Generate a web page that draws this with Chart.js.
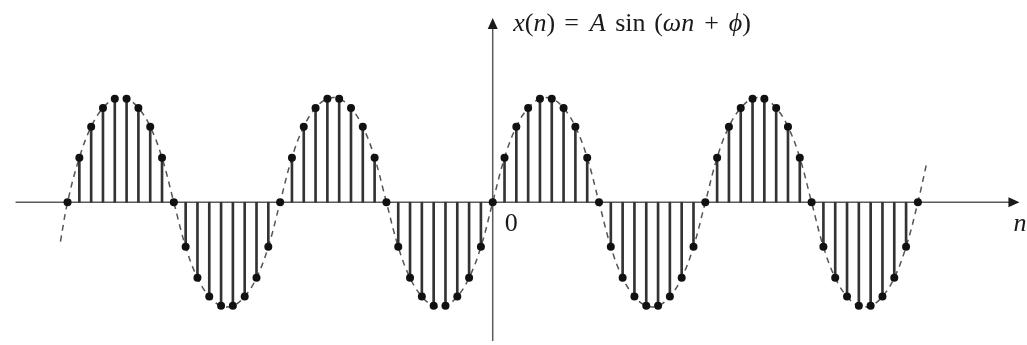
<!DOCTYPE html>
<html>
<head>
<meta charset="utf-8">
<script src="https://cdn.jsdelivr.net/npm/chart.js@4"></script>
<style>
  body { margin: 0; background: #fff; }
  #caja { width: 1027px; height: 345px; position: relative; }
</style>
</head>
<body>
<div id="caja"><canvas id="grafico"></canvas></div>
<script>
// indices n of the samples
const muestras = [
  -36, -35, -34, -33, -32, -31, -30, -29, -28, -27, -26, -25, -24, -23, -22, -21, -20, -19,
  -18, -17, -16, -15, -14, -13, -12, -11, -10, -9, -8, -7, -6, -5, -4, -3, -2, -1,
  0, 1, 2, 3, 4, 5, 6, 7, 8, 9, 10, 11, 12, 13, 14, 15, 16, 17,
  18, 19, 20, 21, 22, 23, 24, 25, 26, 27, 28, 29, 30, 31, 32, 33, 34, 35,
  36
];
// x(n), amplitude A = 1
const valores = [
  0, 0.43, 0.73, 0.91, 1, 1, 0.91, 0.73, 0.43, 0, -0.43, -0.73, -0.91, -1, -1, -0.91, -0.73, -0.43,
  0, 0.43, 0.73, 0.91, 1, 1, 0.91, 0.73, 0.43, 0, -0.43, -0.73, -0.91, -1, -1, -0.91, -0.73, -0.43,
  0, 0.43, 0.73, 0.91, 1, 1, 0.91, 0.73, 0.43, 0, -0.43, -0.73, -0.91, -1, -1, -0.91, -0.73, -0.43,
  0, 0.43, 0.73, 0.91, 1, 1, 0.91, 0.73, 0.43, 0, -0.43, -0.73, -0.91, -1, -1, -0.91, -0.73, -0.43,
  0
];
// the dashed envelope runs a little past the first and last sample
const colaIzq = { x: -36.6, y: -0.38 };
const colaDer = { x: 36.75, y: 0.38 };

// axis extents (n axis, x(n) axis)
const EJE_N = [-40.4, 44.6];
const EJE_X = [-1.34, 1.78];

const puntos = muestras.map((n, i) => ({ x: n, y: valores[i] }));
const curva = [colaIzq].concat(puntos, [colaDer]);

const recto = '26px "Liberation Serif", "DejaVu Serif", serif';
const cursiva = 'italic 26px "Liberation Serif", "DejaVu Serif", serif';

// x(n) = A sin (ωn + ϕ); pieces with an offset start there (from the vertical axis),
// the rest follow the previous piece
const formula = [
  ['x', cursiva, 20.5], ['(', recto], ['n', cursiva], [')', recto],
  ['=', recto, 71.5], ['A', cursiva, 97], ['sin', recto, 122.5],
  ['(', recto, 161.5], ['ω', cursiva], ['n', cursiva],
  ['+', recto, 211.5], ['ϕ', cursiva, 236], [')', recto]
];

const ejes = {
  id: 'ejes',
  beforeDatasetsDraw(chart) {
    const ctx = chart.ctx;
    const sx = chart.scales.x, sy = chart.scales.y;
    const y0 = sy.getPixelForValue(0);
    const x0 = sx.getPixelForValue(0);
    ctx.save();
    ctx.strokeStyle = '#5a5a5a';
    ctx.fillStyle = '#1a1a1a';
    ctx.lineWidth = 1.5;

    // n axis with arrow
    const xi = sx.getPixelForValue(EJE_N[0]);
    const xd = sx.getPixelForValue(EJE_N[1]);
    ctx.beginPath();
    ctx.moveTo(xi, y0);
    ctx.lineTo(xd - 6, y0);
    ctx.stroke();
    ctx.beginPath();
    ctx.moveTo(xd, y0);
    ctx.lineTo(xd - 11, y0 - 5);
    ctx.lineTo(xd - 11, y0 + 5);
    ctx.closePath();
    ctx.fill();

    // x(n) axis with arrow
    const yb = sy.getPixelForValue(EJE_X[0]);
    const yt = sy.getPixelForValue(EJE_X[1]);
    ctx.beginPath();
    ctx.moveTo(x0, yb);
    ctx.lineTo(x0, yt + 6);
    ctx.stroke();
    ctx.beginPath();
    ctx.moveTo(x0, yt);
    ctx.lineTo(x0 - 5, yt + 11);
    ctx.lineTo(x0 + 5, yt + 11);
    ctx.closePath();
    ctx.fill();
    ctx.restore();
  },
  afterDraw(chart) {
    const ctx = chart.ctx;
    const sx = chart.scales.x, sy = chart.scales.y;
    const y0 = sy.getPixelForValue(0);
    const x0 = sx.getPixelForValue(0);
    ctx.save();
    ctx.fillStyle = '#1a1a1a';
    ctx.textBaseline = 'alphabetic';

    let px = x0;
    formula.forEach(p => {
      ctx.font = p[1];
      if (p[2] !== undefined) px = x0 + p[2];
      ctx.fillText(p[0], px, 31);
      px += ctx.measureText(p[0]).width;
    });

    ctx.font = recto;
    ctx.fillText('0', x0 + 12, y0 + 29);
    ctx.font = cursiva;
    ctx.fillText('n', sx.getPixelForValue(EJE_N[1]) - 6, y0 + 29);
    ctx.restore();
  }
};

new Chart(document.getElementById('grafico'), {
  type: 'scatter',
  data: {
    datasets: [
      {
        type: 'scatter',
        data: puntos,
        pointRadius: 4,
        pointBackgroundColor: '#111',
        pointBorderWidth: 0,
        order: 0
      },
      {
        type: 'bar',
        data: puntos,
        backgroundColor: '#333',
        borderWidth: 0,
        barThickness: 2,
        order: 1
      },
      {
        type: 'line',
        data: curva,
        borderColor: '#555',
        borderWidth: 1.5,
        borderDash: [6, 5],
        tension: 0.4,
        pointRadius: 0,
        fill: false,
        order: 2
      }
    ]
  },
  options: {
    responsive: true,
    maintainAspectRatio: false,
    animation: false,
    layout: { padding: 0 },
    plugins: { legend: { display: false }, tooltip: { enabled: false } },
    scales: {
      x: { type: 'linear', min: -41.38, max: 44.9, offset: false, display: false },
      y: { min: -1.34, max: 1.915, display: false }
    }
  },
  plugins: [ejes]
});
</script>
</body>
</html>
